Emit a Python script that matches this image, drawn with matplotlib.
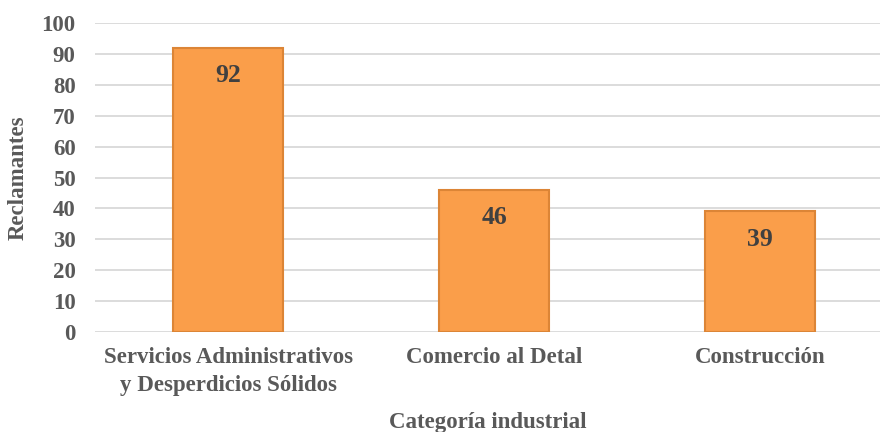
import matplotlib.pyplot as plt

categorias = ["Servicios Administrativos\ny Desperdicios Sólidos", "Comercio al Detal", "Construcción"]
reclamantes = [92, 46, 39]
y_ticks = [0, 10, 20, 30, 40, 50, 60, 70, 80, 90, 100]

plt.rcParams['font.family'] = ['Liberation Serif', 'DejaVu Serif']
plt.rcParams['font.weight'] = 'bold'

fig = plt.figure(figsize=(8.82, 4.32), dpi=100)
ax = fig.add_axes([95 / 882, 1 - 332 / 432, 785 / 882, 309 / 432])

x = range(len(categorias))
bars = ax.bar(x, reclamantes, width=0.41, color='#FA9E4A', edgecolor='#DC8536',
              linewidth=1.5, zorder=3)

for bar, val in zip(bars, reclamantes):
    ax.annotate(str(val), (bar.get_x() + bar.get_width() / 2, val),
                xytext=(0, -20), textcoords='offset points',
                ha='center', va='center', fontsize=18.5, fontweight='bold',
                color='#404040', zorder=4)

ax.set_xlim(-0.5, 2.451)
ax.set_ylim(0, 100)
ax.set_yticks(y_ticks)
ax.set_xticks(list(x))
ax.set_xticklabels(categorias, fontsize=16.5, color='#595959', linespacing=1.45,
                   fontweight='bold')
ax.tick_params(axis='y', labelsize=16.5, labelcolor='#595959', length=0, pad=14)
ax.tick_params(axis='x', length=0, pad=11)
for lab in ax.get_yticklabels():
    lab.set_fontweight('bold')
ax.yaxis.grid(True, color='#D9D9D9', linewidth=1.3, zorder=0)
for s in ax.spines.values():
    s.set_visible(False)

ax.set_ylabel("Reclamantes", fontsize=16.5, color='#595959', labelpad=9,
              fontweight='bold')
ax.set_xlabel("Categoría industrial", fontsize=16.5, color='#595959', labelpad=11,
              fontweight='bold')

fig.savefig("out.png", dpi=100)
